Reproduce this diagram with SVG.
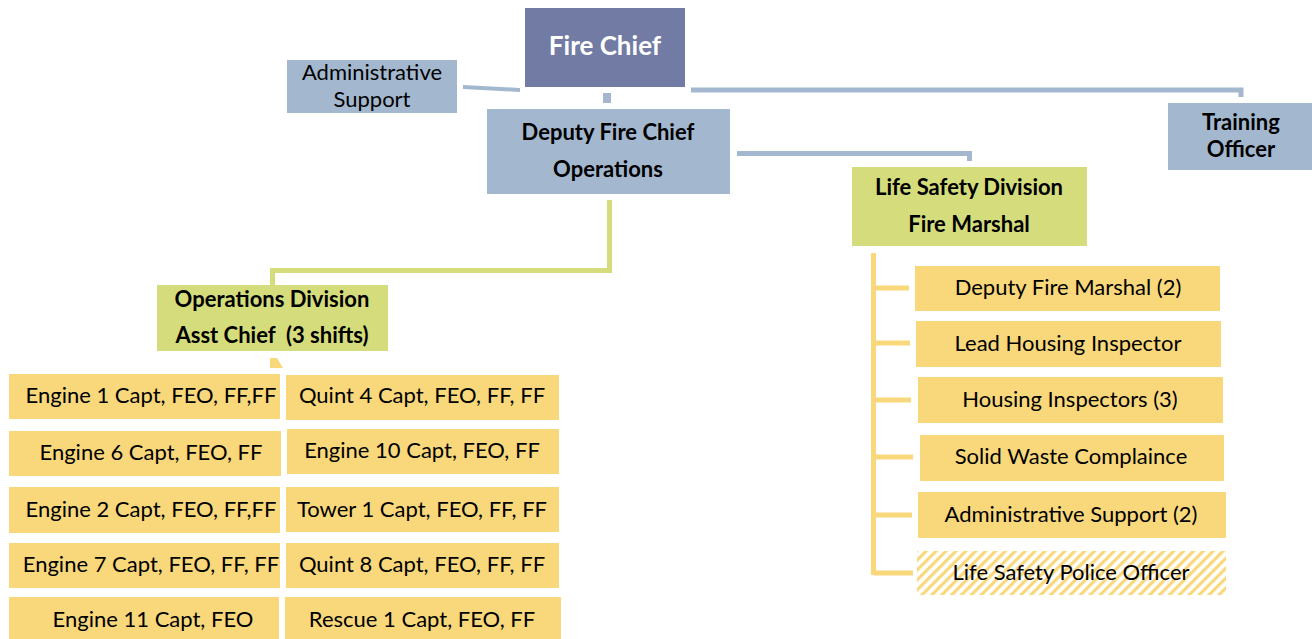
<svg xmlns="http://www.w3.org/2000/svg" width="1312" height="639" viewBox="0 0 1312 639">
<defs>
<style>
.blue{fill:#a3b8cf}
.dark{fill:#717ba3}
.green{fill:#d4dc7b}
.yel{fill:#f9d87b}
text{font-family:Lato,"Liberation Sans",sans-serif;font-size:22px;fill:#000;text-anchor:middle}
.b{font-weight:700}
.w{fill:#fff;font-size:26px;font-weight:700}
.cb{fill:none;stroke:#a3b8cf;stroke-width:5}
.cg{fill:none;stroke:#d4dc7b;stroke-width:5}
.cy{fill:none;stroke:#f9d87b;stroke-width:5}
</style>
<pattern id="hatch" patternUnits="userSpaceOnUse" width="7" height="7" patternTransform="rotate(45)">
<rect width="7" height="7" fill="#fff"/>
<rect width="3.2" height="7" fill="#f9d87b"/>
</pattern>
</defs>
<rect width="1312" height="639" fill="#fff"/>
<g id="connectors">
<polygon points="463,85 520,88 520,92 463,89" fill="#a3b8cf"/>
<rect x="603" y="93" width="8" height="10" fill="#a3b8cf"/>
<path class="cb" d="M691,90 H1241 V97"/>
<path class="cb" d="M737,153.5 H969.5 V161"/>
<path class="cg" d="M609.5,200 V270.5 H272.5 V285"/>
<polygon points="270,358 277,358 283,368 270,368" fill="#f9d87b"/>
<path class="cy" d="M873.5,253 V575 M873.5,288 H909 M873.5,343 H910 M873.5,400 H911 M873.5,457 H913 M873.5,515 H912 M873.5,573 H913"/>
</g>
<g id="fire-chief"><rect class="dark" x="525" y="8" width="160" height="79"/><text class="w" x="605" y="55">Fire Chief</text></g>
<g id="admin-support"><rect class="blue" x="287" y="60" width="170" height="53"/><text x="372" y="80">Administrative</text><text x="372" y="107">Support</text></g>
<g id="deputy-chief"><rect class="blue" x="487" y="109" width="243" height="85"/><text class="b" x="608" y="140">Deputy Fire Chief</text><text class="b" x="608" y="177">Operations</text></g>
<g id="training-officer"><rect class="blue" x="1168" y="103" width="144" height="67"/><text class="b" x="1241" y="130">Training</text><text class="b" x="1241" y="157">Officer</text></g>
<g id="life-safety"><rect class="green" x="852" y="167" width="235" height="79"/><text class="b" x="969" y="195">Life Safety Division</text><text class="b" x="969" y="232">Fire Marshal</text></g>
<g id="operations-division"><rect class="green" x="157" y="285" width="231" height="66"/><text class="b" x="272" y="307">Operations Division</text><text class="b" x="272" y="343" xml:space="preserve">Asst Chief  (3 shifts)</text></g>
<g id="deputy-fire-marshal"><rect class="yel" x="915" y="266" width="305" height="45"/><text x="1068" y="295">Deputy Fire Marshal (2)</text></g>
<g id="lead-housing"><rect class="yel" x="916" y="321" width="305" height="46"/><text x="1068" y="351">Lead Housing Inspector</text></g>
<g id="housing-inspectors"><rect class="yel" x="918" y="377" width="305" height="46"/><text x="1070" y="407">Housing Inspectors (3)</text></g>
<g id="solid-waste"><rect class="yel" x="920" y="435" width="304" height="46"/><text x="1071" y="464">Solid Waste Complaince</text></g>
<g id="admin-support-2"><rect class="yel" x="918" y="492" width="308" height="46"/><text x="1071" y="522">Administrative Support (2)</text></g>
<g id="police-officer"><rect fill="url(#hatch)" x="917" y="551" width="309" height="44"/><text x="1071" y="580">Life Safety Police Officer</text></g>
<g id="engine-1"><rect class="yel" x="9" y="374" width="271" height="45"/><text x="151" y="403">Engine 1 Capt, FEO, FF,FF</text></g>
<g id="quint-4"><rect class="yel" x="286" y="375" width="273" height="45"/><text x="422" y="403">Quint 4 Capt, FEO, FF, FF</text></g>
<g id="engine-6"><rect class="yel" x="9" y="431" width="272" height="45"/><text x="151" y="460">Engine 6 Capt, FEO, FF</text></g>
<g id="engine-10"><rect class="yel" x="287" y="429" width="272" height="45"/><text x="422" y="458">Engine 10 Capt, FEO, FF</text></g>
<g id="engine-2"><rect class="yel" x="9" y="487" width="271" height="46"/><text x="151" y="517">Engine 2 Capt, FEO, FF,FF</text></g>
<g id="tower-1"><rect class="yel" x="286" y="487" width="273" height="45"/><text x="422" y="517">Tower 1 Capt, FEO, FF, FF</text></g>
<g id="engine-7"><rect class="yel" x="9" y="543" width="271" height="45"/><text x="151" y="572">Engine 7 Capt, FEO, FF, FF</text></g>
<g id="quint-8"><rect class="yel" x="286" y="543" width="273" height="45"/><text x="422" y="572">Quint 8 Capt, FEO, FF, FF</text></g>
<g id="engine-11"><rect class="yel" x="9" y="597" width="270" height="42"/><text x="153" y="627">Engine 11 Capt, FEO</text></g>
<g id="rescue-1"><rect class="yel" x="285" y="597" width="276" height="42"/><text x="422" y="627">Rescue 1 Capt, FEO, FF</text></g>
</svg>
